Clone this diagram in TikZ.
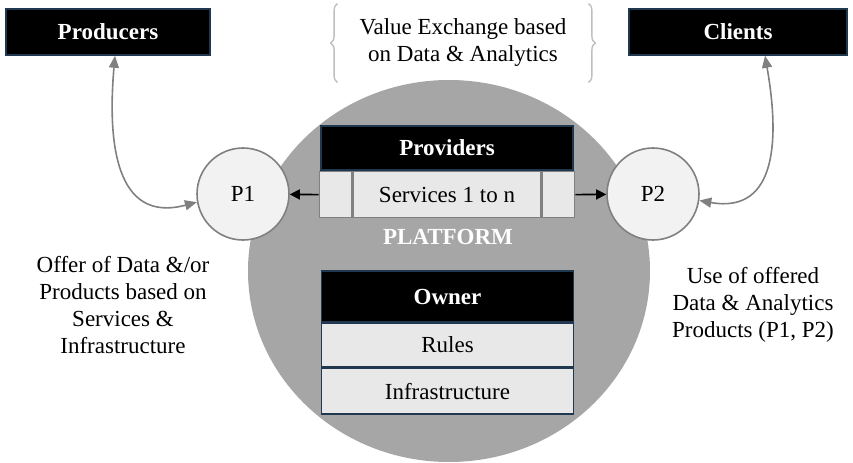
\documentclass[tikz,border=0pt]{standalone}
\usepackage{fontspec}
\setmainfont{Liberation Serif}
\usepackage{xcolor}
\usetikzlibrary{arrows.meta,positioning,shapes.geometric,decorations.pathreplacing}
\definecolor{platgray}{HTML}{A6A6A6}
\definecolor{cellgray}{HTML}{E8E8E8}
\definecolor{pfill}{HTML}{F2F2F2}
\definecolor{edgeblue}{HTML}{1F3850}
\definecolor{linegray}{HTML}{808080}
\definecolor{bracegray}{HTML}{BFBFBF}
\newcommand{\basefont}{\fontsize{11.5pt}{13.5pt}\selectfont}
\tikzset{
	headbox/.style={draw=edgeblue, line width=0.8pt, fill=black, text=white, font=\basefont\bfseries, inner sep=0pt},
	cellbox/.style={draw=edgeblue, line width=0.8pt, fill=cellgray, minimum width=126pt, inner sep=0pt},
	svcbox/.style={draw=linegray, line width=0.8pt, fill=cellgray, minimum height=23pt, inner sep=0pt},
	pnode/.style={circle, draw=linegray, line width=0.8pt, fill=pfill, minimum size=46pt, inner sep=0pt},
	sidetext/.style={align=center, font=\basefont},
	linkarrow/.style={line width=0.8pt, -{Triangle[length=5pt,width=5pt]}},
	dblarrow/.style={draw=linegray, line width=0.8pt, {Triangle[length=6pt,width=5pt]}-{Triangle[length=6pt,width=5pt]}},
	bracestyle/.style={draw=bracegray, line width=0.7pt, decorate, decoration={brace, amplitude=3.5pt, aspect=0.5}},
}

\begin{document}
\begin{tikzpicture}[x=0.5pt, y=0.5pt, every node/.append style={font=\basefont}]
	\useasboundingbox (0,0) rectangle (853,462);
	\begin{scope}
		\clip (0,0) rectangle (853,462);
		\node[ellipse, fill=platgray, minimum width=201pt, minimum height=191pt, inner sep=0pt] (plat) at (449,191) {};
	\end{scope}

	\node[headbox, minimum width=102pt, minimum height=23pt] (prod) at (108,430) {Producers};
	\node[headbox, minimum width=109pt, minimum height=23pt] (cli) at (738,430) {Clients};
	\node[align=center, minimum width=125pt, minimum height=39pt, inner sep=0pt] (note) at (463,419) {Value Exchange based\\on Data \& Analytics};
	\draw[bracestyle] (note.south west) -- (note.north west);
	\draw[bracestyle] (note.north east) -- (note.south east);

	\node[headbox, minimum width=126pt, minimum height=22pt] (prov) at (447,314) {Providers};
	\node[svcbox, minimum width=94pt, below=0pt of prov] (svc) {Services 1 to n};
	\node[svcbox, minimum width=16pt, left=0pt of svc] (svcL) {};
	\node[svcbox, minimum width=16pt, right=0pt of svc] (svcR) {};
	\node[text=white, font=\basefont\bfseries] (platlabel) at (448,225) {PLATFORM};

	\node[headbox, minimum width=126pt, minimum height=25.5pt] (owner) at (447.5,165.5) {Owner};
	\node[cellbox, minimum height=21.5pt, below=0pt of owner] (rules) {Rules};
	\node[cellbox, minimum height=23pt, below=0pt of rules] (infra) {Infrastructure};

	\node[pnode] (p1) at (243,268) {P1};
	\node[pnode] (p2) at (653,268) {P2};
	\draw[linkarrow] (svcL.west) -- (p1);
	\draw[linkarrow] (svcR.east) -- (p2);

	\draw[dblarrow] ([xshift=3.5pt]prod.south) to[out=-95, in=195, looseness=1.3] (p1.190);
	\draw[dblarrow] ([xshift=13.5pt]cli.south) to[out=-80, in=-10, looseness=1.3] (p2.-8);

	\node[sidetext] (offer) at (123,156.5) {Offer of Data \&/or\\Products based on\\Services \&\\Infrastructure};
	\node[sidetext] (use) at (753,157) {Use of offered\\Data \& Analytics\\Products (P1, P2)};
\end{tikzpicture}
\end{document}
